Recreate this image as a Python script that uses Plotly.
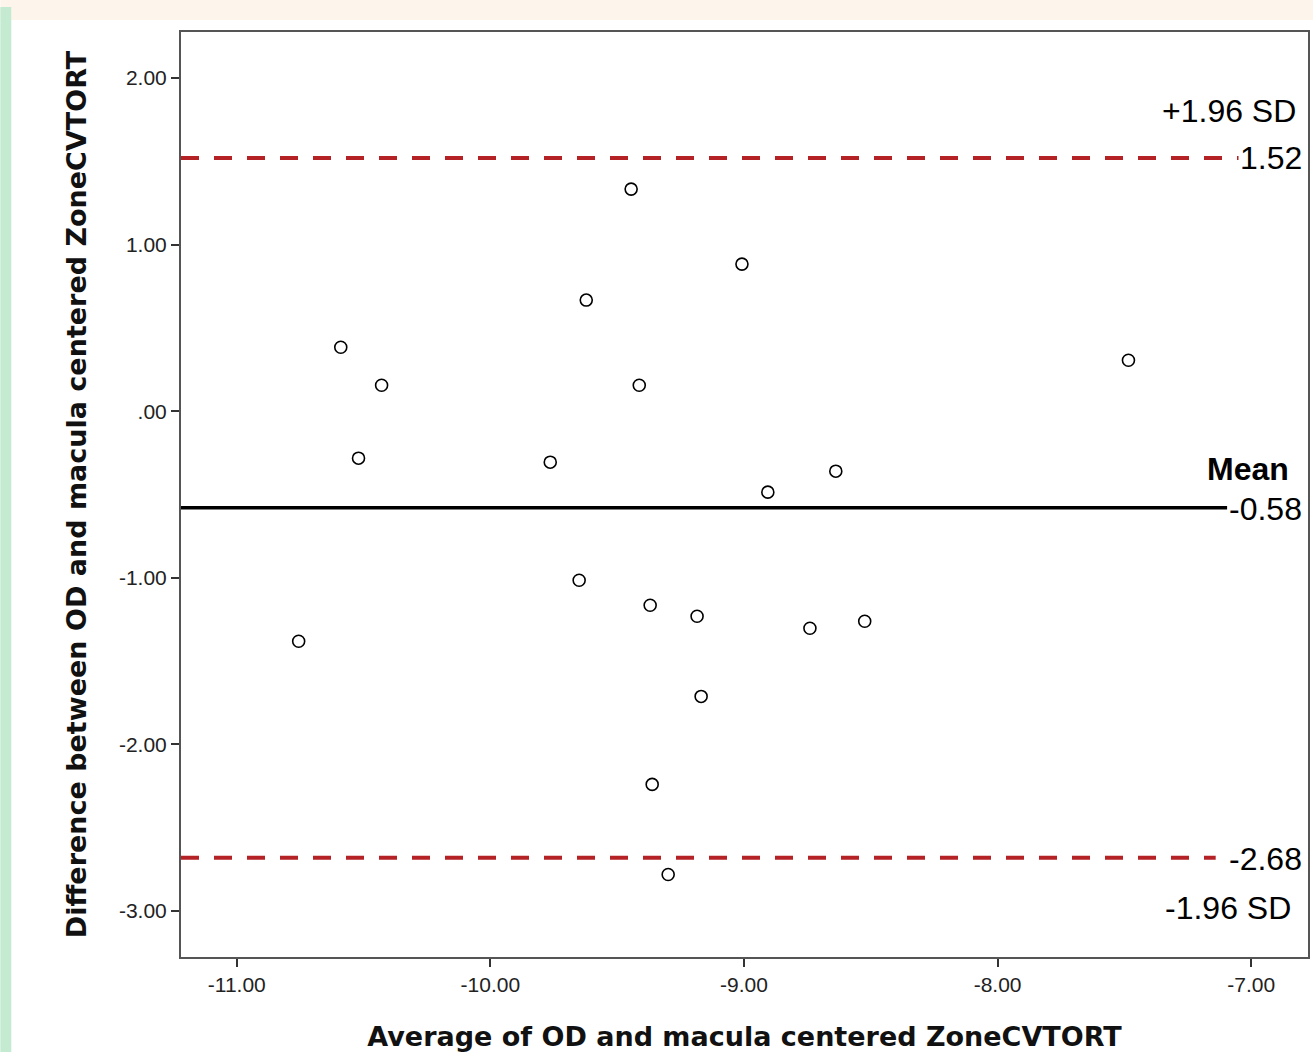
import plotly.graph_objects as go

# Data
avg_vals = [-9.445, -9.008, -9.622, -10.590, -10.429, -9.413, -7.484, -10.520, -9.764, -8.638,
            -8.906, -9.650, -9.370, -9.185, -8.740, -8.524, -10.756, -9.169, -9.362, -9.299]
diff_vals = [1.333, 0.883, 0.667, 0.384, 0.156, 0.156, 0.306, -0.282, -0.306, -0.360,
             -0.486, -1.015, -1.165, -1.231, -1.303, -1.261, -1.381, -1.712, -2.240, -2.781]
mean_diff = -0.58
upper_loa = 1.52
lower_loa = -2.68
x_ticks = [-11, -10, -9, -8, -7]
x_tick_labels = ["-11.00", "-10.00", "-9.00", "-8.00", "-7.00"]
y_ticks = [2, 1, 0, -1, -2, -3]
y_tick_labels = ["2.00", "1.00", ".00", "-1.00", "-2.00", "-3.00"]

X_RANGE = [-11.22, -6.776]
Y_RANGE = [-3.276, 2.276]
FONT = "Liberation Sans, Arial, sans-serif"
TITLE_FONT = "DejaVu Sans, Verdana, sans-serif"

fig = go.Figure()
fig.add_trace(go.Scatter(
    x=avg_vals, y=diff_vals, mode="markers",
    marker=dict(symbol="circle-open", size=12, color="black", line=dict(width=1.6, color="black")),
    showlegend=False, hoverinfo="x+y"))

shapes = [
    # background decorations
    dict(type="rect", xref="paper", yref="paper", x0=-181/1129, x1=(1315-181)/1129,
         y0=1 + 12/925, y1=1 + 32/925, fillcolor="#fdf5ec", line=dict(width=0), layer="below"),
    dict(type="rect", xref="paper", yref="paper", x0=-181/1129, x1=-170/1129,
         y0=-95/925, y1=1 + 25/925, fillcolor="#c5ead2", line=dict(width=0), layer="below"),
    # lines
    dict(type="line", xref="x", yref="y", x0=X_RANGE[0], x1=-7.05, y0=upper_loa, y1=upper_loa,
         line=dict(color="#b52226", width=4, dash="18px,15px")),
    dict(type="line", xref="x", yref="y", x0=X_RANGE[0], x1=-7.14, y0=lower_loa, y1=lower_loa,
         line=dict(color="#b52226", width=4, dash="18px,15px")),
    dict(type="line", xref="x", yref="y", x0=X_RANGE[0], x1=-7.095, y0=mean_diff, y1=mean_diff,
         line=dict(color="black", width=3.5)),
]

ann_font = dict(family=FONT, size=32, color="black")
annotations = [
    dict(text="+1.96 SD", xref="paper", yref="y", x=0.9915, y=upper_loa, yshift=47,
         xanchor="right", yanchor="middle", showarrow=False, font=ann_font),
    dict(text="1.52", xref="paper", yref="y", x=0.9965, y=upper_loa, yshift=0,
         xanchor="right", yanchor="middle", showarrow=False, font=ann_font),
    dict(text="<b>Mean</b>", xref="paper", yref="y", x=0.985, y=mean_diff, yshift=39,
         xanchor="right", yanchor="middle", showarrow=False, font=ann_font),
    dict(text="-0.58", xref="paper", yref="y", x=0.9965, y=mean_diff, yshift=-1,
         xanchor="right", yanchor="middle", showarrow=False, font=ann_font),
    dict(text="-2.68", xref="paper", yref="y", x=0.9965, y=lower_loa, yshift=-1,
         xanchor="right", yanchor="middle", showarrow=False, font=ann_font),
    dict(text="-1.96 SD", xref="paper", yref="y", x=0.987, y=lower_loa, yshift=-50,
         xanchor="right", yanchor="middle", showarrow=False, font=ann_font),
]

axis_common = dict(
    showgrid=False, zeroline=False, showline=True, linecolor="#555555", linewidth=2, mirror=True,
    ticks="outside", ticklen=8, tickwidth=2, tickcolor="#333333",
    tickfont=dict(family=FONT, size=21, color="#222222"),
)

fig.update_layout(
    width=1315, height=1052,
    margin=dict(l=181, r=5, t=32, b=95, pad=0),
    paper_bgcolor="white", plot_bgcolor="white",
    xaxis=dict(range=X_RANGE, tickvals=x_ticks, ticktext=x_tick_labels,
               title=dict(text="<b>Average of OD and macula centered ZoneCVTORT</b>", standoff=32,
                          font=dict(family=TITLE_FONT, size=27, color="#111111")),
               **axis_common),
    yaxis=dict(range=Y_RANGE, tickvals=y_ticks, ticktext=y_tick_labels,
               title=dict(text="<b>Difference between OD and macula centered ZoneCVTORT</b>", standoff=24,
                          font=dict(family=TITLE_FONT, size=27, color="#111111")),
               **axis_common),
    shapes=shapes, annotations=annotations,
)

fig.write_html("out.html", config={"displayModeBar": False},
               post_script="document.body.style.margin='0';")
